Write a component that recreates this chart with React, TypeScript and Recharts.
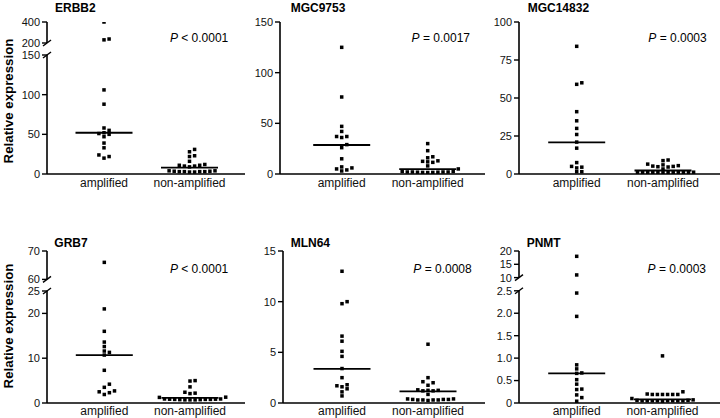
import React from "react";
import { ScatterChart, Scatter, XAxis, YAxis, ReferenceLine } from "recharts";

const FONT = "'Liberation Sans', Arial, Helvetica, sans-serif";

const categories = ["amplified", "non-amplified"];

// values (relative expression)
const erbb2Amplified = [400, 238, 230, 106, 88, 58, 55, 52, 51, 50, 47, 39, 33, 24, 22, 20];
const erbb2NonAmplified = [31, 28, 23, 22, 16, 12, 11, 11, 10, 10, 9, 4, 4, 3.5, 3.5, 3, 3, 3, 3, 2.5, 2.5];
const erbb2Medians = [52, 8];
const erbb2Ticks = ["0", "50", "100", "150", "200", "400"];

const mgc9753Amplified = [125, 76, 47, 42, 37, 37, 36, 29, 26, 15, 7, 6, 5, 4, 3];
const mgc9753NonAmplified = [30, 23, 17, 16, 13, 12.5, 12, 11.5, 8, 5, 2.5, 2.5, 2, 2, 2, 2, 1.8, 1.8, 1.6, 1.6, 1.5];
const mgc9753Medians = [28.6, 4.8];
const mgc9753Ticks = ["0", "50", "100", "150"];

const mgc14832Amplified = [84, 60, 59, 41, 35, 30, 26, 21, 17, 7.5, 5, 4.5, 4, 1.5, 1.5];
const mgc14832NonAmplified = [9.2, 8.8, 6.5, 6, 5.5, 5.2, 5, 4.8, 4.6, 3.3, 1.2, 1.2, 1.1, 1.1, 1, 1, 1, 1, 0.9, 0.9, 0.9, 0.8];
const mgc14832Medians = [20.8, 2.3];
const mgc14832Ticks = ["0", "25", "50", "75", "100"];

const grb7Amplified = [66, 21, 16, 13.6, 12.6, 11.6, 11.3, 10.7, 7.3, 4.2, 3.5, 2.7, 2.5, 2.3, 1.9];
const grb7NonAmplified = [5, 4.9, 3.6, 2.4, 2.2, 2.1, 1.3, 1.25, 0.9, 0.9, 0.85, 0.85, 0.8, 0.8, 0.8, 0.75, 0.75, 0.7, 0.7, 0.7];
const grb7Medians = [10.7, 1.15];
const grb7Ticks = ["0", "10", "20", "25", "60", "70"];

const mln64Amplified = [13, 10, 9.8, 6.6, 6.1, 5.1, 4.6, 3.4, 2.5, 1.8, 1.7, 1.6, 1.4, 1.1, 0.7];
const mln64NonAmplified = [5.8, 2.5, 2.1, 2.0, 1.75, 1.3, 1.25, 1.25, 1.2, 1.2, 0.85, 0.4, 0.4, 0.35, 0.35, 0.35, 0.3, 0.3, 0.3, 0.3, 0.25];
const mln64Medians = [3.37, 1.15];
const mln64Ticks = ["0", "5", "10", "15"];

const pnmtAmplified = [18, 11, 2.45, 1.93, 0.85, 0.76, 0.67, 0.66, 0.52, 0.42, 0.31, 0.3, 0.18, 0.12, 0.04];
const pnmtNonAmplified = [1.05, 0.25, 0.2, 0.19, 0.19, 0.19, 0.19, 0.19, 0.19, 0.1, 0.07, 0.06, 0.06, 0.05, 0.05, 0.05, 0.05, 0.05, 0.05, 0.05, 0.05, 0.04];
const pnmtMedians = [0.66, 0.08];
const pnmtTicks = ["0", "0.5", "1.0", "1.5", "2.0", "2.5", "10", "15", "20"];

type Break = { lowMax: number; upMin: number; upMax: number; gapPx: number; upperPx: number };

type Panel = {
  title: string;
  pText: string;
  amplified: number[];
  nonAmplified: number[];
  medians: number[];
  tickLabels: string[];
  yMax?: number;
  brk?: Break;
  row: 0 | 1;
  left: number;
  width: number;
  axisX: number;
  centers: [number, number];
};

const panels: Panel[] = [
  {
    title: "ERBB2", pText: " < 0.0001", amplified: erbb2Amplified, nonAmplified: erbb2NonAmplified,
    medians: erbb2Medians, tickLabels: erbb2Ticks,
    brk: { lowMax: 150, upMin: 200, upMax: 400, gapPx: 12, upperPx: 21 },
    row: 0, left: 0, width: 245, axisX: 47, centers: [104, 189.5],
  },
  {
    title: "MGC9753", pText: " = 0.0017", amplified: mgc9753Amplified, nonAmplified: mgc9753NonAmplified,
    medians: mgc9753Medians, tickLabels: mgc9753Ticks, yMax: 150,
    row: 0, left: 240, width: 245, axisX: 280, centers: [341.7, 427.7],
  },
  {
    title: "MGC14832", pText: " = 0.0003", amplified: mgc14832Amplified, nonAmplified: mgc14832NonAmplified,
    medians: mgc14832Medians, tickLabels: mgc14832Ticks, yMax: 100,
    row: 0, left: 480, width: 240, axisX: 519, centers: [576.7, 663],
  },
  {
    title: "GRB7", pText: " < 0.0001", amplified: grb7Amplified, nonAmplified: grb7NonAmplified,
    medians: grb7Medians, tickLabels: grb7Ticks,
    brk: { lowMax: 25, upMin: 60, upMax: 70, gapPx: 11.6, upperPx: 28.4 },
    row: 1, left: 0, width: 245, axisX: 47, centers: [104.3, 190],
  },
  {
    title: "MLN64", pText: " = 0.0008", amplified: mln64Amplified, nonAmplified: mln64NonAmplified,
    medians: mln64Medians, tickLabels: mln64Ticks, yMax: 15,
    row: 1, left: 240, width: 245, axisX: 283, centers: [342, 428],
  },
  {
    title: "PNMT", pText: " = 0.0003", amplified: pnmtAmplified, nonAmplified: pnmtNonAmplified,
    medians: pnmtMedians, tickLabels: pnmtTicks,
    brk: { lowMax: 2.5, upMin: 10, upMax: 20, gapPx: 13.2, upperPx: 26.6 },
    row: 1, left: 480, width: 240, axisX: 519, centers: [576.7, 662.5],
  },
];

const ROW_H = 209;
const PLOT_H = 152;
const X_AXIS_H = 14;
const DOT = 3.5;
const SLOT_PX = 5.1;
const MIN_GAP = 3.6;
const MEDIAN_HALF_PX = 28.5;

// piecewise scale for the broken axes: values above the break are squeezed into the top strip
function makeScale(p: Panel) {
  if (!p.brk) return { toDisp: (v: number) => v, top: p.yMax as number };
  const { lowMax, upMin, upMax, gapPx, upperPx } = p.brk;
  const k = (PLOT_H - gapPx - upperPx) / lowMax;
  const toDisp = (v: number) =>
    v <= lowMax ? v : lowMax + (gapPx + ((v - upMin) / (upMax - upMin)) * upperPx) / k;
  return { toDisp, top: lowMax + (gapPx + upperPx) / k };
}

// simple beeswarm: points that would overlap get pushed to neighbouring columns
function swarm(values: number[], cat: number, toDisp: (v: number) => number, pxPerUnit: number, slotUnits: number) {
  const sorted = values
    .map((v) => ({ v, py: toDisp(v) * pxPerUnit }))
    .sort((a, b) => a.py - b.py);
  const placed: { slot: number; py: number }[] = [];
  return sorted.map(({ v, py }) => {
    for (let n = 0; n < 60; n++) {
      const slot = n === 0 ? 0 : n % 2 ? (n + 1) / 2 : -n / 2;
      if (!placed.some((q) => q.slot === slot && Math.abs(q.py - py) < MIN_GAP)) {
        placed.push({ slot, py });
        return { x: cat + slot * slotUnits, y: toDisp(v), value: v };
      }
    }
    return { x: cat, y: toDisp(v), value: v };
  });
}

const Square = (props: any) => (
  <rect x={props.cx - DOT / 2} y={props.cy - DOT / 2} width={DOT} height={DOT} fill="#000" />
);

function DotPanel({ p }: { p: Panel }) {
  const marginTop = p.row === 0 ? 22 : 42;
  const marginBottom = ROW_H - marginTop - PLOT_H - X_AXIS_H;
  const yAxisW = p.axisX - p.left;
  const [cA, cN] = p.centers;
  const S = cN - cA;
  const xMin = 1 - (cA - p.axisX) / S;
  const xMax = 2 + (p.left + p.width - cN) / S;
  const { toDisp, top } = makeScale(p);
  const pxPerUnit = PLOT_H / top;
  const slotUnits = SLOT_PX / S;
  const half = MEDIAN_HALF_PX / S;

  const ampData = swarm(p.amplified, 1, toDisp, pxPerUnit, slotUnits);
  const nonData = swarm(p.nonAmplified, 2, toDisp, pxPerUnit, slotUnits);
  const tickNums = p.tickLabels.map((t) => parseFloat(t));
  const tickVals = tickNums.map(toDisp);
  const brk = p.brk;

  const renderTick = (props: any) => {
    const { x, y, index } = props;
    const raw = tickNums[index];
    const isBreak = brk && (raw === brk.lowMax || raw === brk.upMin);
    const ax = x + 7;
    return (
      <g>
        <text x={x} y={y} dy="0.355em" textAnchor="end" fontSize={11} fill="#111" fontFamily={FONT}>
          {p.tickLabels[index]}
        </text>
        {isBreak && (
          <line x1={ax - 4} y1={y + 3} x2={ax + 4} y2={y - 3} stroke="#000" strokeWidth={1.4} />
        )}
      </g>
    );
  };

  return (
    <div style={{ position: "absolute", left: p.left, top: p.row * ROW_H }}>
      <ScatterChart
        width={p.width}
        height={ROW_H}
        margin={{ top: marginTop, right: 0, bottom: marginBottom, left: 0 }}
      >
        <XAxis
          type="number"
          dataKey="x"
          domain={[xMin, xMax]}
          allowDataOverflow
          ticks={[1, 2]}
          interval={0}
          tickFormatter={(v: number) => categories[Math.round(v) - 1]}
          tickLine={false}
          tickSize={0}
          tickMargin={p.row === 0 ? 4 : 3}
          height={X_AXIS_H}
          axisLine={{ stroke: "#000", strokeWidth: 1.6 }}
          tick={{ fill: "#111", fontSize: 12, fontFamily: FONT }}
        />
        <YAxis
          type="number"
          dataKey="y"
          domain={[0, top]}
          allowDataOverflow
          ticks={tickVals}
          interval={0}
          width={yAxisW}
          tickSize={5}
          tickMargin={2}
          axisLine={brk ? false : { stroke: "#000", strokeWidth: 1.6 }}
          tickLine={{ stroke: "#000", strokeWidth: 1.4 }}
          tick={renderTick}
        />
        {brk && (
          <ReferenceLine
            segment={[{ x: xMin, y: 0 }, { x: xMin, y: brk.lowMax }]}
            stroke="#000"
            strokeWidth={1.6}
            ifOverflow="visible"
          />
        )}
        {brk && (
          <ReferenceLine
            segment={[{ x: xMin, y: toDisp(brk.upMin) }, { x: xMin, y: top }]}
            stroke="#000"
            strokeWidth={1.6}
            ifOverflow="visible"
          />
        )}
        <Scatter data={ampData} shape={Square} isAnimationActive={false} />
        <Scatter data={nonData} shape={Square} isAnimationActive={false} />
        {p.medians.map((m, i) => (
          <ReferenceLine
            key={i}
            segment={[{ x: i + 1 - half, y: toDisp(m) }, { x: i + 1 + half, y: toDisp(m) }]}
            stroke="#000"
            strokeWidth={1.8}
            ifOverflow="visible"
          />
        ))}
      </ScatterChart>
    </div>
  );
}

// text positions for titles and p-values
const titleX = [55, 290.7, 527.7, 54.3, 290.7, 526.7];
const pRight = [228.3, 470, 706.7, 228.3, 471.7, 706];

export default function App() {
  return (
    <div style={{ position: "absolute", left: 0, top: 0, width: 720, height: 418, background: "#fff", overflow: "hidden" }}>
      {panels.map((p) => (
        <DotPanel key={p.title} p={p} />
      ))}
      <svg width={720} height={418} style={{ position: "absolute", left: 0, top: 0, pointerEvents: "none" }}>
        {panels.map((p, i) => (
          <g key={p.title} fontFamily={FONT} fill="#000">
            <text x={titleX[i]} y={p.row === 0 ? 11.5 : 246.5} fontSize={12} fontWeight="bold">
              {p.title}
            </text>
            <text x={pRight[i]} y={p.row === 0 ? 41.5 : 273} fontSize={12} textAnchor="end">
              <tspan fontStyle="italic">P</tspan>
              {p.pText}
            </text>
          </g>
        ))}
        {[101, 326].map((cy) => (
          <text
            key={cy}
            transform={`translate(13,${cy}) rotate(-90)`}
            textAnchor="middle"
            fontSize={13.3}
            fontWeight="bold"
            fontFamily={FONT}
            fill="#000"
          >
            Relative expression
          </text>
        ))}
      </svg>
    </div>
  );
}
